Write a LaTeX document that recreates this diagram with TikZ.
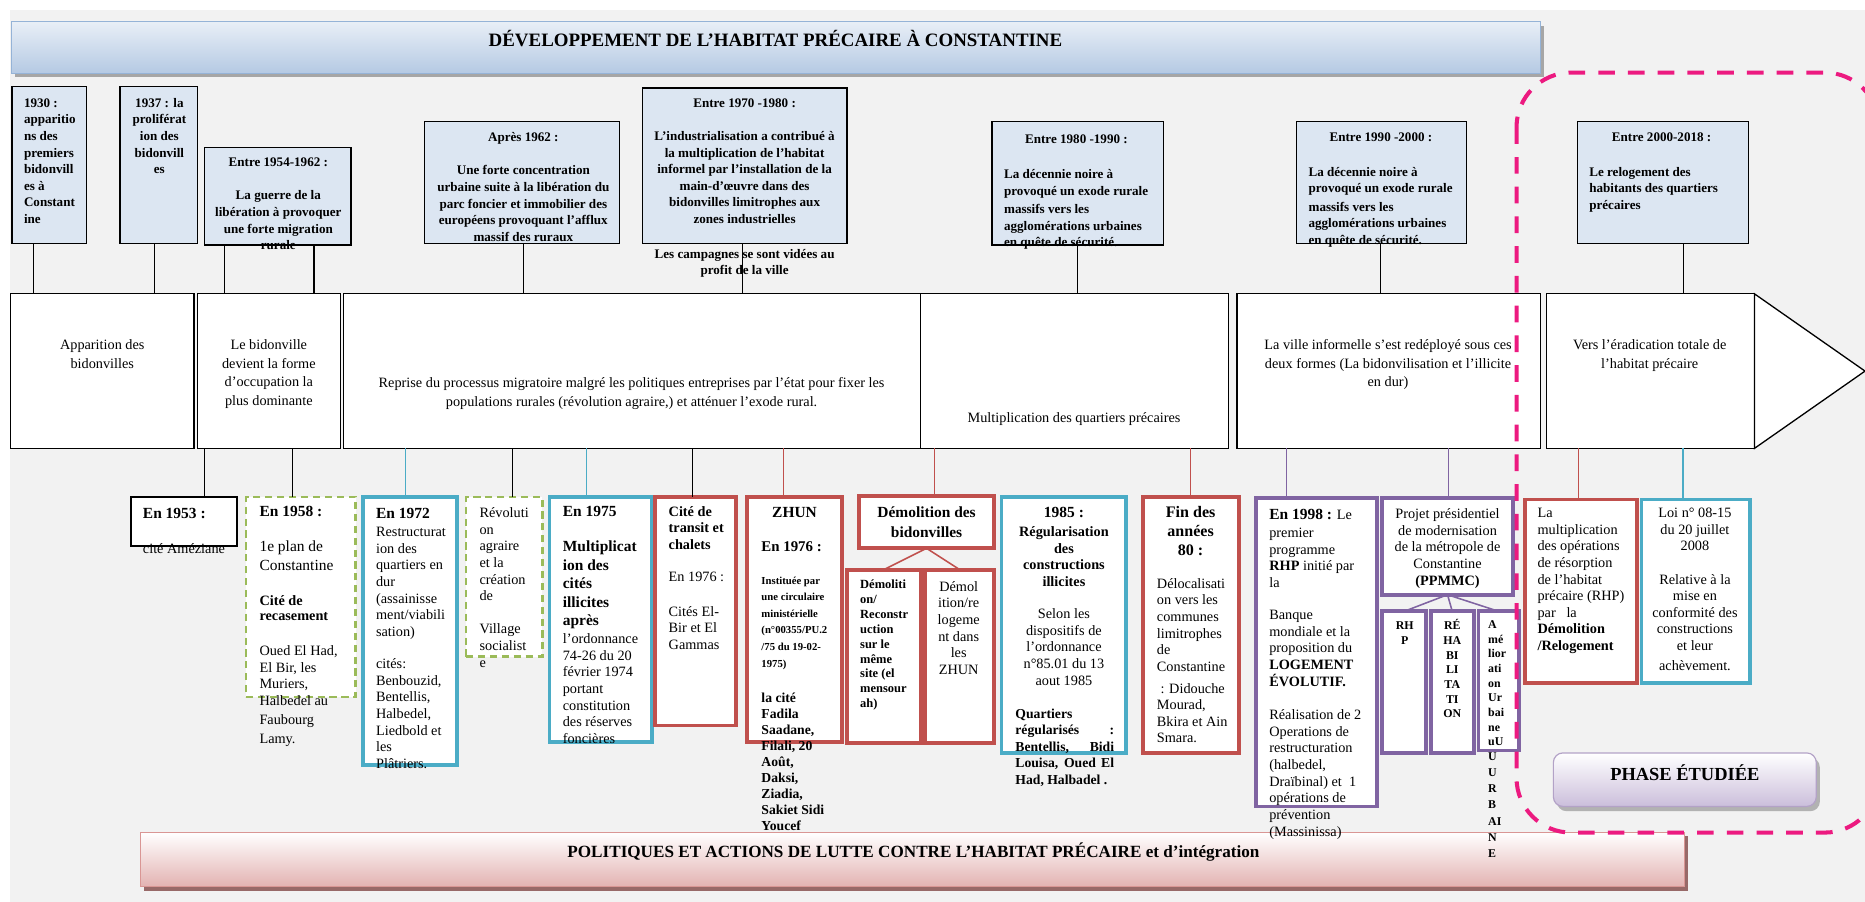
\documentclass[tikz,border=0pt]{standalone}
\usepackage{fontspec}
\setmainfont{Liberation Serif}
\usetikzlibrary{calc}

\definecolor{pagebg}{HTML}{F2F2F2}
\definecolor{topfill}{HTML}{DCE6F2}
\definecolor{cblue}{HTML}{4BACC6}
\definecolor{cred}{HTML}{C0504D}
\definecolor{cpurple}{HTML}{8064A2}
\definecolor{cgreen}{HTML}{9BBB59}
\definecolor{cpink}{HTML}{EC1A80}
\definecolor{titlelow}{HTML}{B4C9E3}
\definecolor{titleedge}{HTML}{95B3D7}
\definecolor{polllow}{HTML}{E3B3B2}
\definecolor{polledge}{HTML}{D99694}
\definecolor{phaselow}{HTML}{CBBEDB}
\definecolor{phaseedge}{HTML}{B3A2C7}

% empty rectangle node given by its corners: style, x1, y1, x2, y2, name
\newcommand\placebox[6]{\node[#1, minimum width={(#4)-(#2)}, minimum height={(#5)-(#3)}] (#6) at ({((#2)+(#4))/2},{((#3)+(#5))/2}) {};}
\newcommand\fs[2]{\fontsize{#1}{#2}\selectfont}
% multi-line text blocks whose baseline is that of their first line
\newcommand\Lt[1]{\begin{tabular}[t]{@{}l@{}}#1\end{tabular}}
\newcommand\Ct[1]{\begin{tabular}[t]{@{}c@{}}#1\end{tabular}}

\tikzset{
  tb/.style={draw=black, line width=1.1pt, fill=topfill, inner sep=0pt, outer sep=0pt},
  sg/.style={draw=black, line width=1.1pt, fill=white, inner sep=0pt, outer sep=0pt},
  nb/.style={draw=black, line width=1.5pt, fill=white, inner sep=0pt, outer sep=0pt},
  bx/.style={draw=#1, line width=3.2pt, fill=white, inner sep=0pt, outer sep=0pt},
  gbx/.style={draw=cgreen, line width=2pt, dash pattern=on 6pt off 4pt, fill=white, inner sep=0pt, outer sep=0pt},
  lt/.style={anchor=base west, inner sep=0pt},
  ct/.style={anchor=base, inner sep=0pt},
  tf/.style={font=\bfseries\fs{11}{14}},
  rf/.style={font=\fs{12}{14}},
  hf/.style={font=\bfseries\fs{13}{14}},
  cn/.style={draw=#1, line width=0.9pt},
  cn/.default=black
}

\begin{document}
\begin{tikzpicture}[x=1pt, y=-1pt]
\useasboundingbox (0,0) rectangle (1568,758);
\fill[white] (0,0) rectangle (1568,758);
\fill[pagebg] (8,8) rectangle (1568,758);

% ---------- title bar ----------
\fill[black!35] (13,22) rectangle (1298,65);
\placebox{draw=titleedge, line width=0.8pt, top color=white!70!titlelow, bottom color=titlelow, inner sep=0pt, outer sep=0pt}{10}{18}{1295}{62}{title}
\node[ct, font=\bfseries\fs{15.9}{18}] (titletext) at (652,39.5) {DÉVELOPPEMENT DE L’HABITAT PRÉCAIRE À CONSTANTINE};

% ---------- period boxes above the time band ----------
\placebox{tb}{10}{73}{73}{205}{b1930}
\placebox{tb}{101}{73}{166}{205}{b1937}
\placebox{tb}{172}{124}{295}{206}{b1954}
\placebox{tb}{357}{102}{521}{205}{b1962}
\placebox{tb}{540}{74}{712}{205}{b1970}
\placebox{tb}{834}{102}{978}{206}{b1980}
\placebox{tb}{1090}{102}{1233}{205}{b1990}
\placebox{tb}{1326}{102}{1470}{205}{b2000}

\node[lt, tf] (t1930) at (20,90) {\Lt{1930 :\\apparitio\\ns des\\premiers\\bidonvill\\es à\\Constant\\ine}};
\node[ct, tf] (t1937) at (134,90) {\Ct{1937 : la\\proliférat\\ion des\\bidonvill\\es}};
\node[ct, tf] (t1954) at (234,140) {\Ct{Entre 1954-1962 :\\[14pt]La guerre de la\\libération à provoquer\\une forte migration\\rurale}};
\node[ct, tf] (t1962) at (440,119) {\Ct{Après 1962 :\\[14pt]Une forte concentration\\urbaine suite à la libération du\\parc foncier et immobilier des\\européens provoquant l’afflux\\massif des ruraux}};
\node[ct, tf] (t1970) at (626,90) {\Ct{Entre 1970 -1980 :\\[14pt]L’industrialisation a contribué à\\la multiplication de l’habitat\\informel par l’installation de la\\main-d’œuvre dans des\\bidonvilles limitrophes aux\\zones industrielles}};
\node[ct, tf] (c1970) at (626,217) {\Ct{Les campagnes se sont vidées au\\profit de la ville}};
\node[ct, tf] (h1980) at (905,121) {Entre 1980 -1990 :};
\node[lt, tf] (t1980) at (844,150) {\Lt{La décennie noire à\\provoqué un exode rurale\\[1.5pt]massifs vers les\\agglomérations urbaines\\en quête de sécurité.}};
\node[ct, tf] (h1990) at (1161,119) {Entre 1990 -2000 :};
\node[lt, tf] (t1990) at (1100,148) {\Lt{La décennie noire à\\provoqué un exode rurale\\[1.5pt]massifs vers les\\agglomérations urbaines\\en quête de sécurité.}};
\node[ct, tf] (h2000) at (1397,119) {Entre 2000-2018 :};
\node[lt, tf] (t2000) at (1336,148) {\Lt{Le relogement des\\habitants des quartiers\\précaires}};

% ---------- time band ----------
\placebox{sg}{9}{247}{163}{377}{s1}
\placebox{sg}{166}{247}{286}{377}{s2}
\placebox{sg}{289}{247}{774}{377}{s3}
\placebox{sg}{774}{247}{1033}{377}{s4}
\placebox{sg}{1040}{247}{1295}{377}{s5}
\placebox{sg}{1300}{247}{1475}{377}{s6}
\coordinate (tip) at (1568,312);
\draw[line width=1.1pt, fill=white, line join=miter] (s6.north east) -- (tip) -- (s6.south east) -- cycle;

\node[ct, font=\fs{12}{15.5}] (s1t) at (86,294) {\Ct{Apparition des\\bidonvilles}};
\node[ct, font=\fs{12}{15.5}] (s2t) at (226,294) {\Ct{Le bidonville\\devient la forme\\d’occupation la\\plus dominante}};
\node[ct, font=\fs{12}{15.5}] (s3t) at (531,326) {\Ct{Reprise du processus migratoire malgré les politiques entreprises par l’état pour fixer les\\populations rurales (révolution agraire,) et atténuer l’exode rural.}};
\node[ct, rf] (s4t) at (903,355) {Multiplication des quartiers précaires};
\node[ct, font=\fs{12}{15.5}] (s5t) at (1167,294) {\Ct{La ville informelle s’est redéployé sous ces\\deux formes (La bidonvilisation et l’illicite\\en dur)}};
\node[ct, font=\fs{12}{15.5}] (s6t) at (1387,294) {\Ct{Vers l’éradication totale de\\l’habitat précaire}};

% x positions of the vertical connectors
\foreach \n/\x in {k1930/28, k1937/130, k1954a/189, k1954b/264, k1962/440, k1970/624, k1980/906, k1990/1161, k2000/1415,
  k1953/172, k1958/246, k1972/341, krev/431, k1975/493, ktransit/582, kzhun/659, kdemol/786, kfin/1001, k1998/1082, kppmmc/1218, kmult/1327, kloi/1415}
  \coordinate (\n) at (\x,0);
\draw[cn] (b1930.south -| k1930) -- (s1.north -| k1930);
\draw[cn] (b1937.south -| k1937) -- (s1.north -| k1937);
\draw[cn] (b1954.south -| k1954a) -- (s2.north -| k1954a);
\draw[cn] (b1954.south -| k1954b) -- (s2.north -| k1954b);
\draw[cn] (b1962.south -| k1962) -- (s3.north -| k1962);
\draw[cn] (b1970.south -| k1970) -- (s3.north -| k1970);
\draw[cn] (b1980.south -| k1980) -- (s4.north -| k1980);
\draw[cn] (b1990.south -| k1990) -- (s5.north -| k1990);
\draw[cn] (b2000.south -| k2000) -- (s6.north -| k2000);

% ---------- bottom banner ----------
\fill[black!30!polledge] (121,703) rectangle (1419,749);
\placebox{draw=polledge, line width=0.8pt, top color=white, bottom color=polllow, inner sep=0pt, outer sep=0pt}{118}{700}{1416}{745}{policy}
\node[ct, font=\bfseries\fs{14.4}{16}] (policytext) at (768,721) {POLITIQUES ET ACTIONS DE LUTTE CONTRE L’HABITAT PRÉCAIRE et d’intégration};

% ---------- action boxes below the band ----------
\placebox{nb}{110}{418}{199}{459}{b1953}
\placebox{gbx}{207}{418}{299}{586}{b1958}
\placebox{bx=cblue}{305}{418}{384}{643}{b1972}
\placebox{gbx}{392}{418}{456}{552}{brev}
\placebox{bx=cblue}{462}{418}{548}{624}{b1975}
\placebox{bx=cred}{551}{418}{619}{610}{btransit}
\placebox{bx=cred}{628}{418}{708}{624}{bzhun}
\placebox{bx=cred}{722}{417}{836}{461}{bdemol}
\placebox{bx=cred}{712}{479}{774}{625}{bdemolA}
\placebox{bx=cred}{778}{479}{836}{625}{bdemolB}
\placebox{bx=cblue}{842}{418}{947}{633}{b1985}
\placebox{bx=cred}{961}{418}{1042}{633}{bfin}
\placebox{bx=cpurple}{1056}{419}{1158}{678}{b1998}
\placebox{bx=cpurple}{1162}{419}{1272}{500}{bppmmc}
\placebox{bx=cpurple}{1162}{514}{1199}{633}{brhp}
\placebox{bx=cpurple}{1203}{514}{1239}{633}{breha}
\placebox{bx=cpurple}{1243}{514}{1277}{631}{bamel}
\placebox{bx=cred}{1282}{420}{1376}{574}{bmult}
\placebox{bx=cblue}{1380}{420}{1471}{574}{bloi}

\draw[cn] (s2.south -| k1953) -- (b1953.north -| k1953);
\draw[cn] (s2.south -| k1958) -- (b1958.north -| k1958);
\draw[cn=cblue, line width=1.3pt] (s3.south -| k1972) -- (b1972.north -| k1972);
\draw[cn] (s3.south -| krev) -- (brev.north -| krev);
\draw[cn=cblue, line width=1.3pt] (s3.south -| k1975) -- (b1975.north -| k1975);
\draw[cn] (s3.south -| ktransit) -- (btransit.north -| ktransit);
\draw[cn=cred] (s3.south -| kzhun) -- (bzhun.north -| kzhun);
\draw[cn=cred] (s4.south -| kdemol) -- (bdemol.north -| kdemol);
\draw[cn=cred] (s4.south -| kfin) -- (bfin.north -| kfin);
\draw[cn=cpurple] (s5.south -| k1998) -- (b1998.north -| k1998);
\draw[cn=cpurple] (s5.south -| kppmmc) -- (bppmmc.north -| kppmmc);
\draw[cn=cred] (s6.south -| kmult) -- (bmult.north -| kmult);
\draw[cn=cblue, line width=1.3pt] (s6.south -| kloi) -- (bloi.north -| kloi);
\draw[cn=cred, line width=1.3pt] (bdemol.south) -- (bdemolA.north);
\draw[cn=cred, line width=1.3pt] (bdemol.south) -- (bdemolB.north);
\draw[cn=cpurple, line width=1.3pt] (bppmmc.south) -- (brhp.north);
\draw[cn=cpurple, line width=1.3pt] (bppmmc.south) -- (breha.north);
\draw[cn=cpurple, line width=1.3pt] (bppmmc.south) -- (bamel.north);

% texts of the action boxes
\node[lt, hf] (t1953a) at (120,436) {En 1953 :};
\node[lt, rf] (t1953b) at (120,465) {cité Améziane};

\node[lt, hf] (t1958a) at (218,434) {En 1958 :};
\node[lt, font=\fs{13}{16}] (t1958b) at (218,464) {\Lt{1e plan de\\Constantine}};
\node[lt, font=\bfseries\fs{12}{13}] (t1958c) at (218,509) {\Lt{Cité de\\recasement}};
\node[lt, rf] (t1958d) at (218,551) {\Lt{Oued El Had,\\El Bir, les\\Muriers,\\Halbedel au\\[2pt]Faubourg\\[2pt]Lamy.}};

\node[lt, hf] (t1972a) at (316,436) {En 1972};
\node[lt, rf] (t1972b) at (316,451) {\Lt{Restructurat\\ion des\\quartiers en\\dur\\(assainisse\\ment/viabili\\sation)\\[13pt]cités:\\Benbouzid,\\Bentellis,\\Halbedel,\\Liedbold et\\les\\Plâtriers.}};

\node[lt, rf] (trev) at (403,435) {\Lt{Révoluti\\on\\agraire\\et la\\création\\de\\[14pt]Village\\socialist\\e}};

\node[lt, hf] (t1975a) at (473,434) {En 1975};
\node[lt, font=\bfseries\fs{13}{15.5}] (t1975b) at (473,464) {\Lt{Multiplicat\\ion des\\cités\\illicites\\après}};
\node[lt, rf] (t1975c) at (473,541) {\Lt{l’ordonnance\\74-26 du 20\\février 1974\\portant\\constitution\\des réserves\\foncières}};

\node[lt, font=\bfseries\fs{12}{14}] (ttransa) at (562,434) {\Lt{Cité de\\transit et\\chalets}};
\node[lt, rf] (ttransb) at (562,489) {En 1976 :};
\node[lt, rf] (ttransc) at (562,518) {\Lt{Cités El-\\Bir et El\\Gammas}};

\node[ct, hf] (tzhuna) at (668,435) {ZHUN};
\node[lt, font=\bfseries\fs{12.5}{14}] (tzhunb) at (640,464) {En 1976 :};
\node[lt, font=\bfseries\fs{9}{14}] (tzhunc) at (640,491) {\Lt{Instituée par\\une circulaire\\ministérielle\\(n°00355/PU.2\\/75 du 19-02-\\1975)}};
\node[lt, font=\bfseries\fs{11.5}{13.4}] (tzhund) at (640,591) {\Lt{la cité\\Fadila\\Saadane,\\Filali, 20\\Août,\\Daksi,\\Ziadia,\\Sakiet Sidi\\Youcef}};

\node[ct, font=\bfseries\fs{13}{17}] (tdemol) at (779,435) {\Ct{Démolition des\\bidonvilles}};
\node[lt, font=\bfseries\fs{10.5}{12.5}] (tdemolA) at (723,495) {\Lt{Démoliti\\on/\\Reconstr\\uction\\sur le\\même\\site (el\\mensour\\ah)}};
\node[ct, rf] (tdemolB) at (806,497) {\Ct{Démol\\ition/re\\logeme\\nt dans\\les\\ZHUN}};

\node[ct, hf] (t1985a) at (894.5,435.5) {1985 :};
\node[ct, font=\bfseries\fs{12}{14}] (t1985b) at (894.5,451) {\Ct{Régularisation\\des\\constructions\\illicites}};
\node[ct, rf] (t1985c) at (894.5,520) {\Ct{Selon les\\dispositifs de\\l’ordonnance\\n°85.01 du 13\\aout 1985}};
\node[lt, font=\bfseries\fs{11.5}{13.8}] (t1985d) at (853.5,604) {\Lt{Quartiers\\\makebox[83pt][s]{régularisés :}\\\makebox[83pt][s]{Bentellis, Bidi}\\\makebox[83pt][s]{Louisa, Oued El}\\Had, Halbadel .}};

\node[ct, font=\bfseries\fs{13.5}{16}] (tfina) at (1001,435) {\Ct{Fin des\\années\\80 :}};
\node[lt, rf] (tfinb) at (972.5,494.5) {\Lt{Délocalisati\\on vers les\\communes\\limitrophes\\de\\Constantine}};
\node[lt, font=\fs{12}{13.7}] (tfinc) at (972.5,583) {\Lt{\hspace{3pt}: Didouche\\Mourad,\\Bkira et Ain\\Smara.}};

\node[lt, rf] (t1998a) at (1067,437) {{\bfseries\fs{13}{14}En 1998 :} Le};
\node[lt, rf] (t1998b) at (1067,452) {\Lt{premier\\programme\\\textbf{RHP} initié par\\la}};
\node[lt, rf] (t1998c) at (1067,521) {\Lt{Banque\\mondiale et la\\proposition du\\\textbf{LOGEMENT}\\\textbf{ÉVOLUTIF.}}};
\node[lt, rf] (t1998d) at (1067,605) {\Lt{Réalisation de 2\\Operations de\\restructuration\\(halbedel,\\Draïbinal) et \ 1\\opérations de\\prévention\\(Massinissa)}};

\node[ct, rf] (tppmmc) at (1217,436) {\Ct{Projet présidentiel\\de modernisation\\de la métropole de\\Constantine\\\textbf{(PPMMC)}}};
\node[ct, font=\bfseries\fs{10}{13}] (trhp) at (1181,529) {\Ct{RH\\P}};
\node[ct, font=\bfseries\fs{10}{12.3}] (treha) at (1221,529.6) {\Ct{RÉ\\HA\\BI\\LI\\TA\\TI\\ON}};
\node[lt, font=\bfseries\fs{10}{12.3}] (tamela) at (1251,528.6) {\Lt{A\\mé\\lior\\ati\\on\\Ur\\bai\\ne\\uU}};
\node[lt, font=\bfseries\fs{10}{13.7}] (tamelb) at (1251,639) {\Lt{U\\U\\R\\B\\AI\\N\\E}};

\node[lt, rf] (tmult) at (1292.5,435) {\Lt{La\\multiplication\\des opérations\\de résorption\\de l’habitat\\précaire (RHP)\\par \ \ la\\\textbf{Démolition}\\\textbf{/Relogement}}};
\node[ct, rf] (tloi) at (1425,435) {\Ct{Loi n° 08-15\\du 20 juillet\\2008\\[14pt]Relative à la\\mise en\\conformité des\\constructions\\et leur\\[3pt]achèvement.}};

% ---------- studied phase ----------
\fill[black!30, rounded corners=8pt] (1309,637) rectangle (1530,682);
\placebox{draw=phaseedge, line width=1pt, rounded corners=8pt, top color=white, bottom color=phaselow, inner sep=0pt, outer sep=0pt}{1306}{633}{1527}{678}{phase}
\node[ct, font=\bfseries\fs{15.5}{18}] (phasetext) at (1416.5,656.5) {PHASE ÉTUDIÉE};

\draw[cpink, line width=3.4pt, dash pattern=on 14pt off 11pt, rounded corners=46pt] (1275,61) rectangle (1580,700);
\end{tikzpicture}
\end{document}
